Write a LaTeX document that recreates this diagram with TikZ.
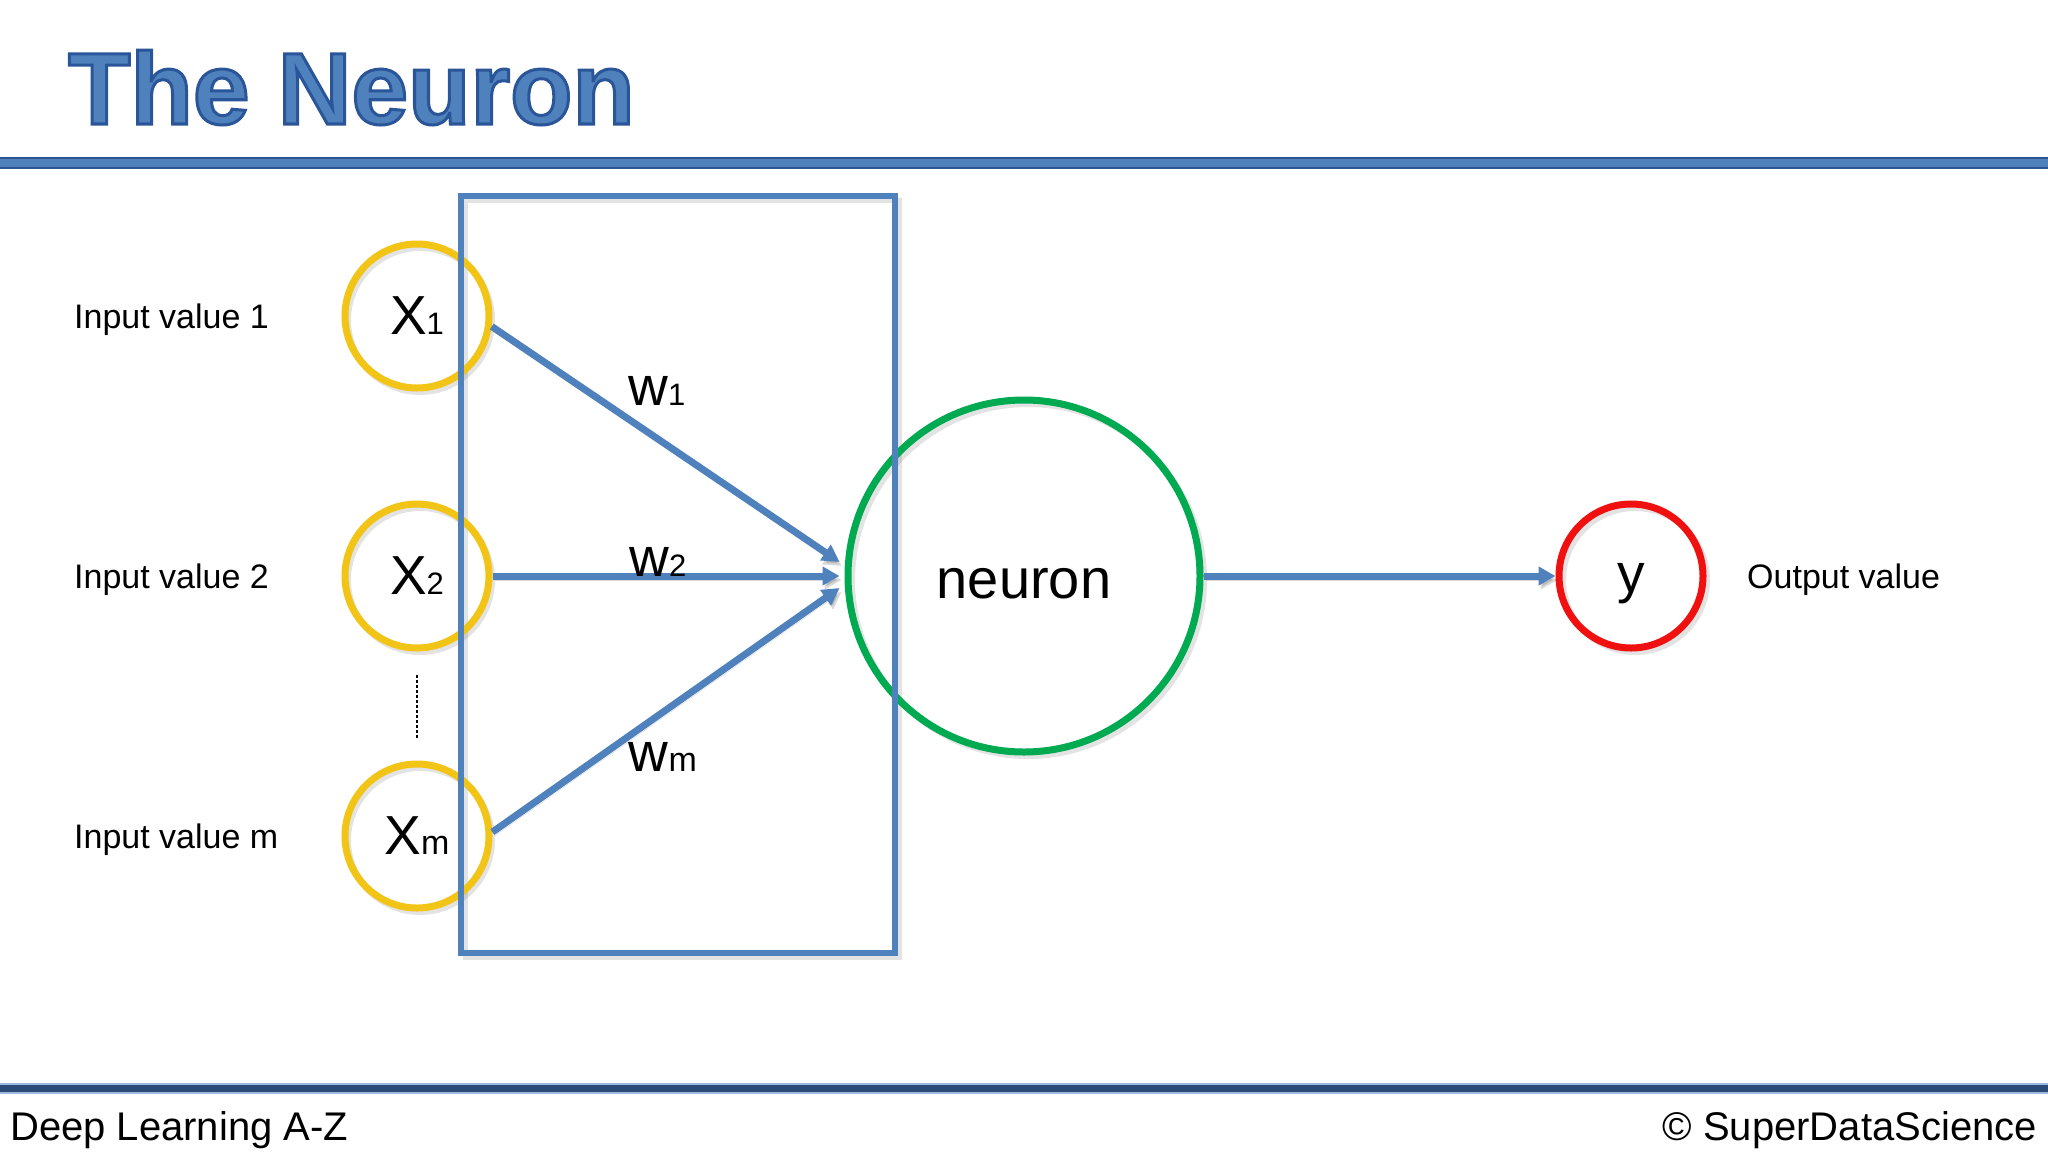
\documentclass[tikz,border=0pt]{standalone}
\usepackage{fontspec}
\setmainfont{Liberation Sans}
\usetikzlibrary{arrows.meta,calc}
\definecolor{sblue}{HTML}{4F81BD}
\definecolor{bdark}{HTML}{2C5393}
\definecolor{fdark}{HTML}{2B4A78}
\definecolor{flight}{HTML}{9DB9E0}
\definecolor{syellow}{HTML}{F2C416}
\definecolor{sgreen}{HTML}{00AA50}
\definecolor{sred}{HTML}{F01010}
\newcommand{\fs}[1]{\fontsize{#1}{#1}\selectfont}
\newcommand{\outlined}[1]{\special{pdf:literal direct 2 Tr 3 w 0.165 0.337 0.6 RG}#1\special{pdf:literal direct 0 Tr}}
\begin{document}
\begin{tikzpicture}[x=1pt,y=-1pt,
  inputc/.style={circle,draw=syellow,line width=7,minimum size=144,inner sep=0,font=\fs{55}},
  label/.style={anchor=base west,font=\fs{34},inner sep=0},
  wlab/.style={font=\fs{55},inner sep=0},
  conn/.style={draw=sblue,line width=7,-{Triangle[length=17,width=18]},
    preaction={draw=black,opacity=0.15,transform canvas={shift={(2,4)}}}},
  shad/.style={draw=black!60,opacity=0.18,line width=6}
]
\useasboundingbox[fill=white] (0,0) rectangle (2048,1152);

% title
\node[anchor=base west,inner sep=0,font=\fs{102}\bfseries,text=sblue] (title) at (68,124) {\outlined{The Neuron}};

% header bar
\fill[sblue] (0,158) rectangle (2048,168);
\draw[bdark,line width=2] (0,158) -- (2048,158);
\draw[bdark,line width=2] (0,168) -- (2048,168);

% footer bar
\fill[fdark] (0,1085) rectangle (2048,1092);
\draw[flight,line width=1.5] (0,1084) -- (2048,1084);
\draw[flight,line width=1.5] (0,1093) -- (2048,1093);
\node[anchor=base west,inner sep=0,font=\fs{40}] (foot1) at (10,1140) {Deep Learning A-Z};
\node[anchor=base east,inner sep=0,font=\fs{40}] (foot2) at (2037,1140) {© SuperDataScience};

% shadows
\draw[shad] (420,320) circle (72);
\draw[shad] (420,580) circle (72);
\draw[shad] (420,840) circle (72);
\draw[shad] (1028,580) circle (176);
\draw[shad] (1635,580) circle (72);
\draw[shad,line width=5] (465,200) rectangle (899,957);

% nodes
\node[inputc] (x1) at (417,316) {X{\fs{31}1}};
\node[inputc] (x2) at (417,576) {X{\fs{31}2}};
\node[inputc] (xm) at (417,836) {X{\fs{34}m}};
\node[circle,draw=sgreen,line width=7,minimum size=352,inner sep=0] (neuron) at (1024,576) {};
\node[anchor=base,inner sep=0,font=\fs{56}] (ntext) at (1024,598) {neuron};
\node[circle,draw=sred,line width=7,minimum size=144,inner sep=0] (y) at (1631,576) {};
\node[anchor=base,inner sep=0,font=\fs{55}] (ytext) at (1631,592) {y};

\node[label] (l1) at (74,328) {Input value 1};
\node[label] (l2) at (74,588) {Input value 2};
\node[label] (lm) at (74,848) {Input value m};
\node[label] (lo) at (1747,588) {Output value};

% dotted
\coordinate (dtop) at (417,675);
\coordinate (dbot) at (417,738);
\draw[black,line width=2.5,dash pattern=on 2.5 off 2.5] (dtop) -- (dbot);

% arrow ends
\coordinate (t1) at ($(neuron.west)+(-5,-14)$);
\coordinate (t2) at ($(neuron.west)+(-5,0)$);
\coordinate (tm) at ($(neuron.west)+(-5,12)$);

\draw[conn] (x1.-8) -- (t1);
\draw[conn] (x2.east) -- (t2);
\draw[conn] (xm.3) -- (tm);
\draw[conn] (neuron.east) -- (y.west);

\node[wlab] (w1) at (657,391) {w{\fs{31}1}};
\node[wlab] (w2) at (658,562) {w{\fs{31}2}};
\node[wlab] (wm) at (663,757) {w{\fs{34}m}};

% box
\draw[sblue,line width=6] (461,196) rectangle (895,953);
\end{tikzpicture}
\end{document}
